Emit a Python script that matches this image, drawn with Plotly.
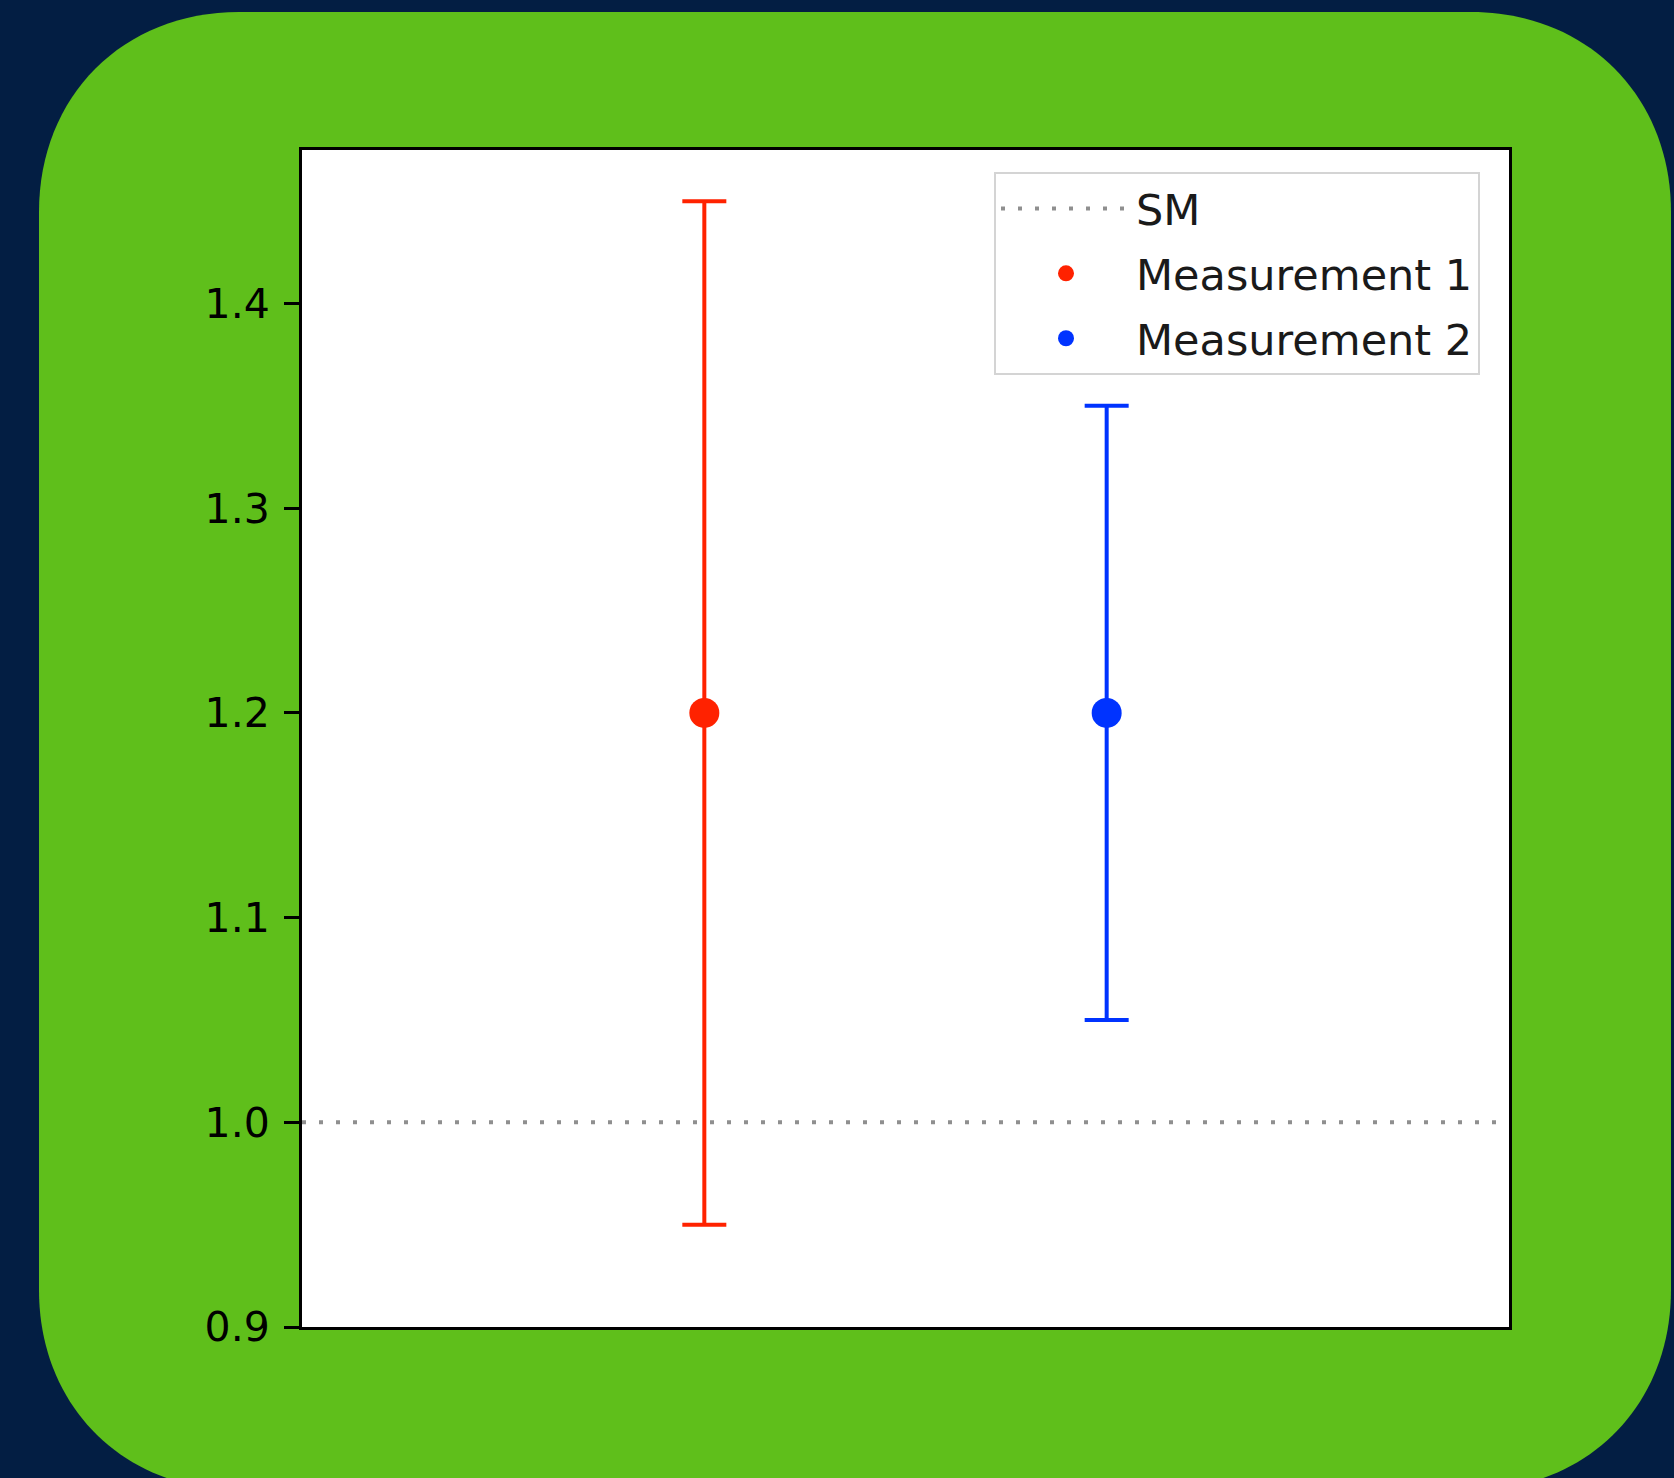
import plotly.graph_objects as go

# --- data ---
measurements = ["Measurement 1", "Measurement 2"]
x_pos = [1, 2]
central = [1.2, 1.2]
err_up = [0.25, 0.15]
err_down = [0.25, 0.15]
sm_value = 1.0
x_range = [0, 3]
y_range = [0.9, 1.475]
tick_vals = [0.9, 1.0, 1.1, 1.2, 1.3, 1.4]
tick_labels = ["0.9", "1.0", "1.1", "1.2", "1.3", "1.4"]
colors = ["#ff2200", "#0033ff"]

# --- page geometry (pixels) ---
W, H = 1674, 1478
L, R, T, B = 302, 1509, 150, 1327


def px_x(p):
    return (p - L) / (R - L)


def px_y(p):
    return (B - p) / (B - T)


def rounded_rect(x0, y0, x1, y1, r, k=0.58):
    """SVG path for a rounded rectangle given in pixel space, output in paper space."""
    c = r * (1 - k)
    pts = [
        ("M", [(x0 + r, y0)]),
        ("L", [(x1 - r, y0)]),
        ("C", [(x1 - c, y0), (x1, y0 + c), (x1, y0 + r)]),
        ("L", [(x1, y1 - r)]),
        ("C", [(x1, y1 - c), (x1 - c, y1), (x1 - r, y1)]),
        ("L", [(x0 + r, y1)]),
        ("C", [(x0 + c, y1), (x0, y1 - c), (x0, y1 - r)]),
        ("L", [(x0, y0 + r)]),
        ("C", [(x0, y0 + c), (x0 + c, y0), (x0 + r, y0)]),
    ]
    out = []
    for cmd, ps in pts:
        out.append(cmd + " ".join(f"{px_x(a):.5f},{px_y(b):.5f}" for a, b in ps))
    return " ".join(out) + " Z"


fig = go.Figure()

# Standard Model reference line
fig.add_trace(go.Scatter(
    x=x_range, y=[sm_value, sm_value], mode="lines", name="SM",
    legendgroup="sm",
    line=dict(color="#8f8f8f", width=4, dash="4px,13px"),
    hoverinfo="skip",
))

for name, x, y, up, dn, col in zip(measurements, x_pos, central, err_up, err_down, colors):
    fig.add_trace(go.Scatter(
        x=[x], y=[y], mode="markers", name=name, legendgroup=name,
        marker=dict(color=col, size=30),
        error_y=dict(type="data", symmetric=False, array=[up], arrayminus=[dn],
                     color=col, thickness=4, width=22),
    ))

fig.update_layout(
    width=W, height=H,
    margin=dict(l=L, r=W - R, t=T, b=H - B, pad=0),
    paper_bgcolor="#031e43",
    plot_bgcolor="white",
    font=dict(family="DejaVu Sans", size=40, color="black"),
    showlegend=True,
    legend=dict(
        x=px_x(1480), y=px_y(172), xanchor="right", yanchor="top",
        bgcolor="white", bordercolor="#d4d4d4", borderwidth=2,
        font=dict(size=43, color="#1a1a1a"),
        itemwidth=130,
        traceorder="grouped",
        tracegroupgap=6,
    ),
    shapes=[
        dict(type="path", xref="paper", yref="paper", layer="below",
             path=rounded_rect(39, 12, 1671, 1490, 200),
             fillcolor="#5fbf1b", line=dict(width=0)),
        dict(type="rect", xref="paper", yref="paper", layer="below",
             x0=0, y0=0, x1=1, y1=1, fillcolor="white", line=dict(width=0)),
    ],
)

fig.update_xaxes(
    range=x_range, showgrid=False, zeroline=False,
    showticklabels=False, ticks="",
    showline=True, linecolor="black", linewidth=3, mirror=True,
)
fig.update_yaxes(
    range=y_range, showgrid=False, zeroline=False,
    tickvals=tick_vals, ticktext=tick_labels,
    ticks="outside", ticklen=15, tickwidth=3, tickcolor="black",
    ticklabelstandoff=6,
    tickfont=dict(size=41, color="black"),
    showline=True, linecolor="black", linewidth=3, mirror=True,
)

fig.write_html("out.html")
